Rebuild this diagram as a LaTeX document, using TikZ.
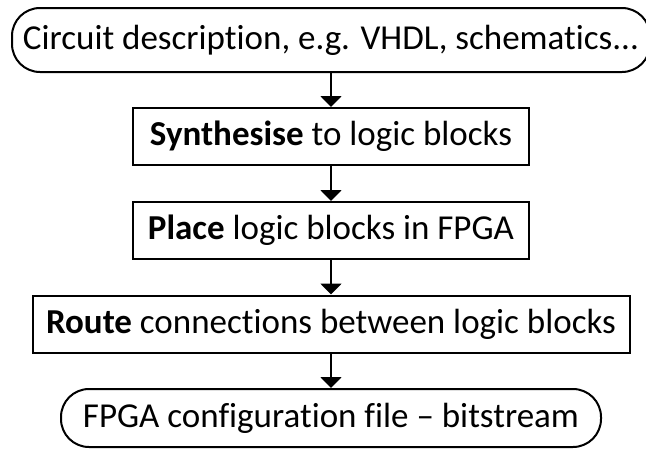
\documentclass[tikz,border=0pt]{standalone}
\usepackage{fontspec}
\setmainfont{Carlito}[Ligatures={NoCommon,NoRequired}]
\usetikzlibrary{arrows.meta}
\tikzset{
  stage/.style={
    draw, line width=2pt, minimum height=57pt, inner sep=0pt,
    font=\fontsize{35}{42}\selectfont
  },
  terminal/.style={stage, rounded corners=28pt},
  flow/.style={line width=2pt, -{Triangle[width=21pt,length=11pt]}}
}

\begin{document}
\begin{tikzpicture}[x=1pt,y=-1pt]
\useasboundingbox (0,0) rectangle (646,450);
\node[terminal, minimum width=638pt, minimum height=64pt] (circuit) at (331,40) {Circuit description, e.g. VHDL, schematics...};
\node[stage, minimum width=396pt] (synth) at (331,136.5) {\textbf{Synthesise} to logic blocks};
\node[stage, minimum width=396pt] (place) at (331,230.5) {\textbf{Place} logic blocks in FPGA};
\node[stage, minimum width=597pt] (route) at (331,324) {\textbf{Route} connections between logic blocks};
\node[terminal, minimum width=540pt, minimum height=58pt] (bits) at (331,418) {FPGA configuration file -- bitstream};
\draw[flow] (circuit) -- (synth);
\draw[flow] (synth) -- (place);
\draw[flow] (place) -- (route);
\draw[flow] (route) -- (bits);
\end{tikzpicture}
\end{document}
